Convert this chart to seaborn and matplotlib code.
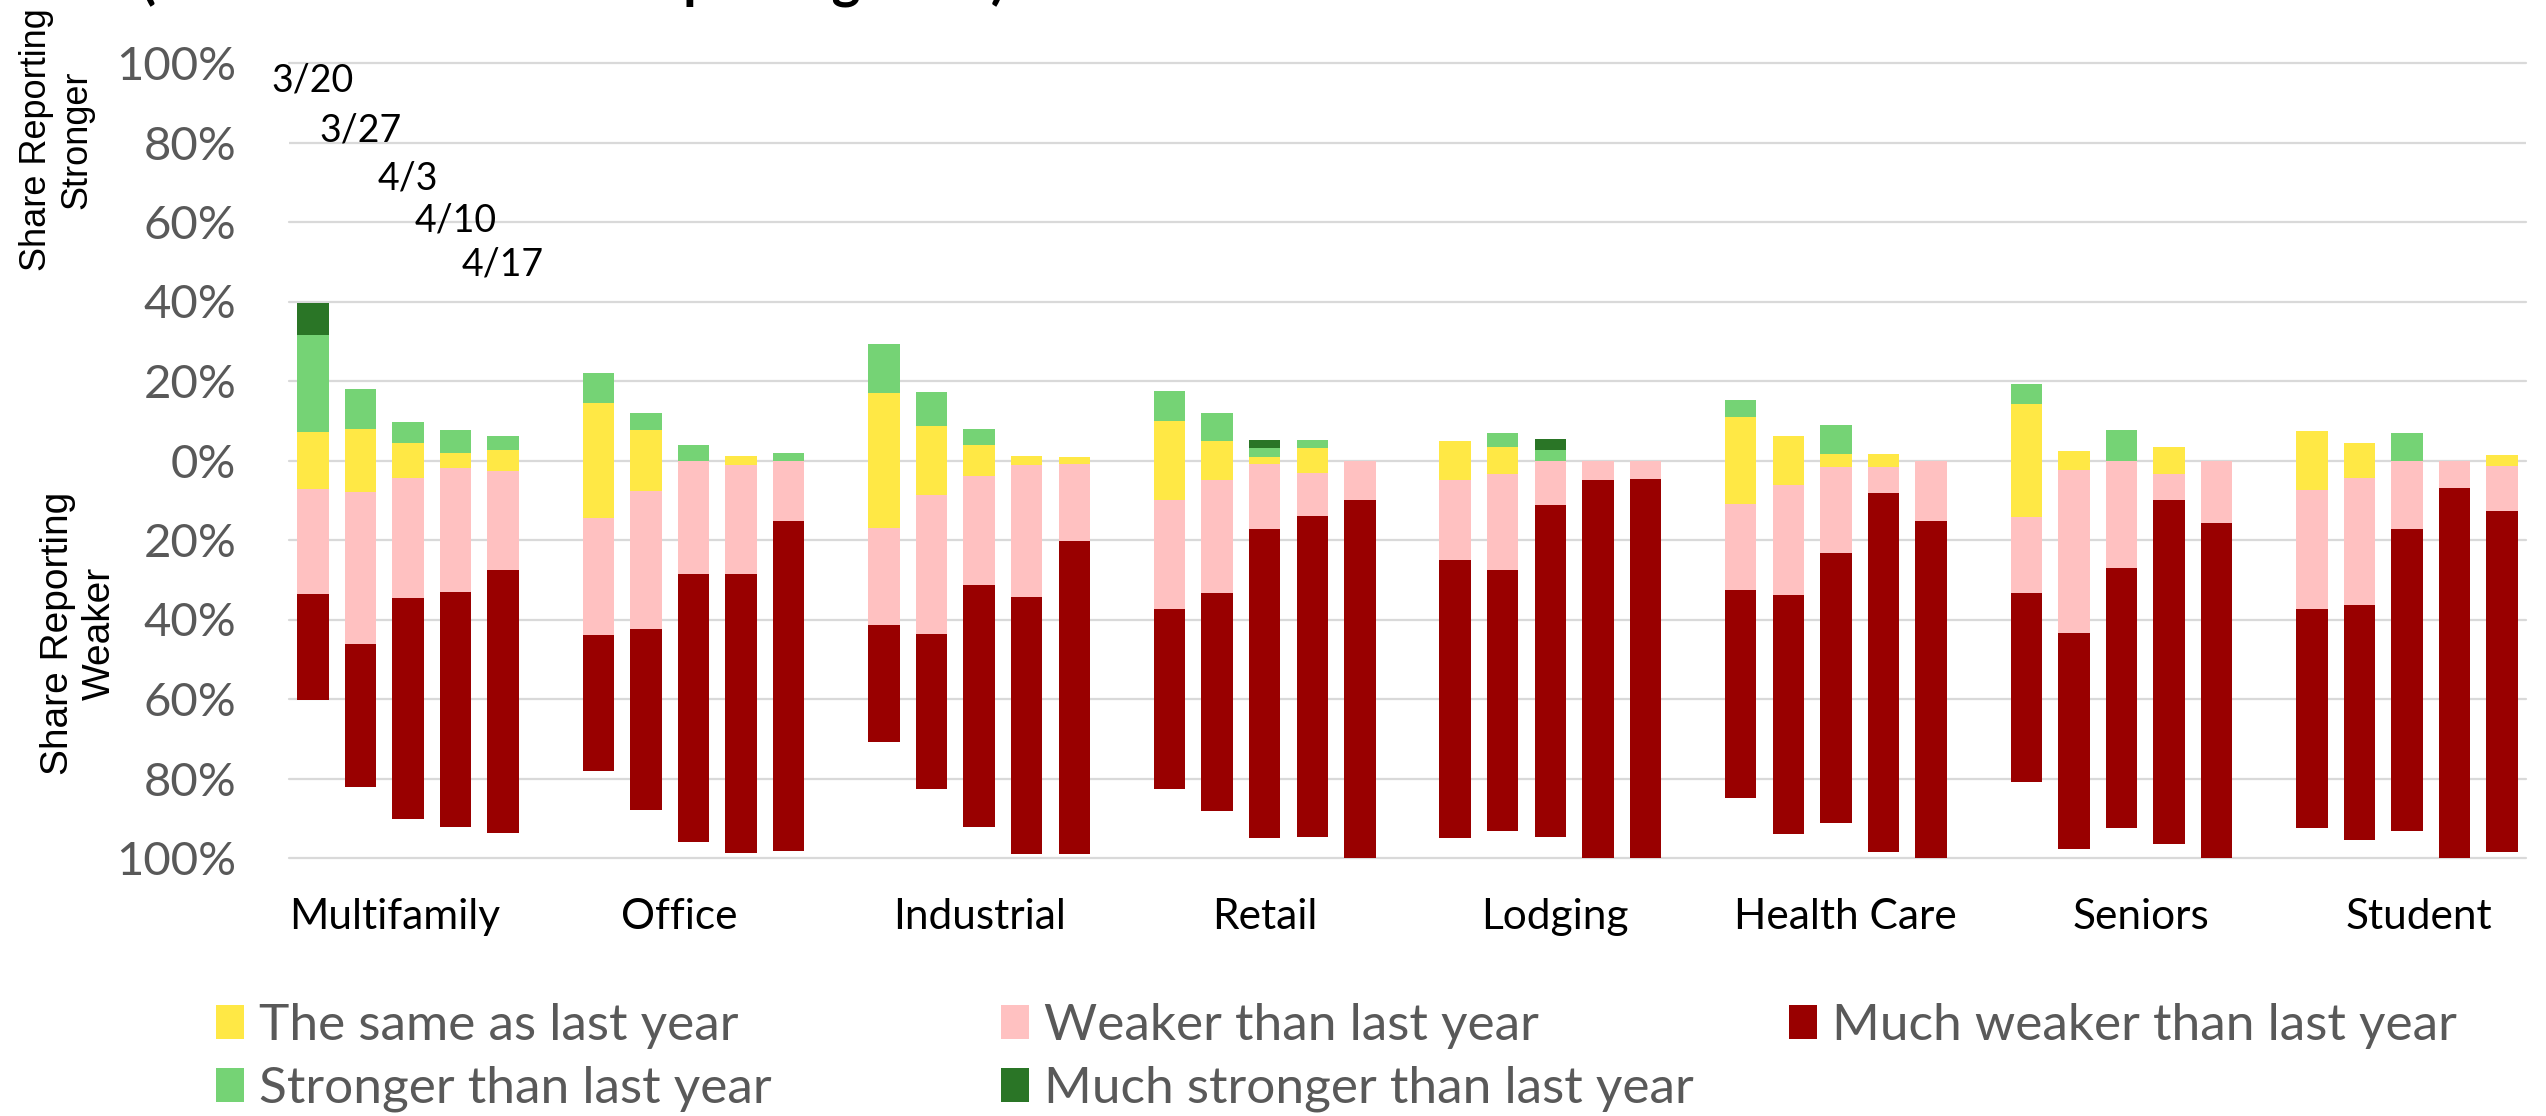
import matplotlib
matplotlib.use("Agg")
import matplotlib.pyplot as plt
from matplotlib.patches import Patch
import pandas as pd
import seaborn as sns

# survey data: share of respondents (%), one row per property type, one value per survey date
categories = ["Multifamily", "Office", "Industrial", "Retail", "Lodging",
              "Health Care", "Seniors", "Student"]
dates = ["3/20", "3/27", "4/3", "4/10", "4/17"]

same = [[14.2, 15.9, 8.8, 3.8, 5.3],
        [29.0, 15.1, 0.0, 2.1, 0.0],
        [34.2, 17.4, 7.9, 2.1, 1.9],
        [20.1, 9.6, 2.0, 6.5, 0.0],
        [10.0, 7.0, 0.0, 0.0, 0.0],
        [21.7, 12.1, 3.4, 3.2, 0.0],
        [28.5, 4.6, 0.0, 6.8, 0.0],
        [14.9, 8.9, 0.0, 0.0, 2.8]]
stronger = [[24.5, 10.0, 5.3, 5.8, 3.6],
            [7.4, 4.4, 3.9, 0.0, 1.8],
            [12.2, 8.5, 3.9, 0.0, 0.0],
            [7.4, 7.1, 2.1, 2.0, 0.0],
            [0.0, 3.4, 2.7, 0.0, 0.0],
            [4.3, 0.0, 7.2, 0.0, 0.0],
            [4.9, 0.0, 7.6, 0.0, 0.0],
            [0.0, 0.0, 6.8, 0.0, 0.0]]
much_stronger = [[8.1, 0, 0, 0, 0],
                 [0, 0, 0, 0, 0],
                 [0, 0, 0, 0, 0],
                 [0, 0, 2.1, 0, 0],
                 [0, 0, 2.8, 0, 0],
                 [0, 0, 0, 0, 0],
                 [0, 0, 0, 0, 0],
                 [0, 0, 0, 0, 0]]
weaker = [[26.6, 38.2, 30.3, 31.3, 25.0],
          [29.5, 34.9, 28.5, 27.6, 15.2],
          [24.4, 35.0, 27.4, 33.3, 19.3],
          [27.4, 28.6, 16.3, 10.6, 9.9],
          [20.0, 24.0, 11.3, 4.9, 4.7],
          [21.7, 27.9, 21.5, 6.5, 15.3],
          [19.1, 41.0, 27.0, 6.6, 15.7],
          [30.0, 31.9, 17.3, 7.0, 11.4]]
much_weaker = [[26.5, 35.9, 55.5, 58.9, 66.0],
               [34.1, 45.6, 67.4, 70.2, 83.0],
               [29.3, 39.0, 60.8, 64.6, 78.8],
               [45.1, 54.7, 77.6, 80.9, 90.1],
               [70.0, 65.6, 83.3, 95.1, 95.3],
               [52.3, 60.0, 67.9, 90.3, 84.7],
               [47.5, 54.4, 65.4, 86.5, 84.3],
               [55.1, 59.1, 76.0, 93.0, 85.7]]

# layout only: where the date labels sit over the first group, and where
# the category labels sit (they are not exactly centred in the source)
date_label_y = [95.7, 82.9, 70.9, 60.3, 49.2]
cat_label_x = [1.73, 7.7, 14.0, 20.0, 26.1, 32.2, 38.4, 44.25]

C_SAME = "#FFE845"
C_WEAK = "#FFC1C1"
C_MWEAK = "#990000"
C_STR = "#75D375"
C_MSTR = "#2A7526"
GRAY = "#595959"

rows = []
for g, cat in enumerate(categories):
    for j, d in enumerate(dates):
        half = same[g][j] / 2
        rows.append({
            "pos": g * 6 + j,
            "cat": cat,
            "date": d,
            "up_same": half,
            "up_str": half + stronger[g][j],
            "up_mstr": half + stronger[g][j] + much_stronger[g][j],
            "dn_same": -half,
            "dn_weak": -(half + weaker[g][j]),
            "dn_mweak": -(half + weaker[g][j] + much_weaker[g][j]),
        })
df = pd.DataFrame(rows)

sns.set_theme(style="white")
plt.rcParams["font.family"] = ["Lato", "DejaVu Sans"]

fig = plt.figure(figsize=(25.46, 11.16), dpi=100)
ax = fig.add_axes([289 / 2546, 1 - 858 / 1116, (2526 - 289) / 2546, (858 - 63) / 1116])

# draw the cumulative stacks back to front
layers = [("up_mstr", C_MSTR), ("up_str", C_STR), ("up_same", C_SAME),
          ("dn_mweak", C_MWEAK), ("dn_weak", C_WEAK), ("dn_same", C_SAME)]
for col, color in layers:
    sns.barplot(data=df, x="pos", y=col, native_scale=True, orient="x",
                width=0.66, color=color, saturation=1, errorbar=None, ax=ax,
                linewidth=0)

ax.set_xlim(-0.5, 46.5)
ax.set_ylim(-100, 100)
for s in ax.spines.values():
    s.set_visible(False)
ax.set_axisbelow(True)
ax.yaxis.grid(True, color="#D9D9D9", linewidth=1.6)
ax.xaxis.grid(False)
for gl in ax.get_ygridlines():
    gl.set_clip_on(False)

yt = list(range(-100, 101, 20))
ax.set_yticks(yt)
ax.set_yticklabels([f"{abs(v)}%" for v in yt], fontsize=34, color=GRAY)
ax.set_xticks(cat_label_x)
ax.set_xticklabels(categories, fontsize=30.5, color="black")
ax.tick_params(axis="y", length=0, pad=38)
ax.tick_params(axis="x", length=0, pad=29)
ax.set_xlabel("")
ax.set_ylabel("")

for j, d in enumerate(dates):
    ax.text(j, date_label_y[j], d, ha="center", va="center", fontsize=27,
            color="black")

fig.text(57 / 2546, 1 - 140 / 1116, "Share Reporting\nStronger", rotation=90,
         ha="center", va="center", multialignment="center", fontsize=26,
         family="Liberation Sans", color="black")
fig.text(79 / 2546, 1 - 633 / 1116, "Share Reporting\nWeaker", rotation=90,
         ha="center", va="center", multialignment="center", fontsize=28,
         family="Liberation Sans", color="black")

# title, cut off by the top edge as in the source image
fig.text(141 / 2546, 1 + 2 / 1116, "(Share of Members Reporting Each)",
         ha="left", va="baseline", fontsize=39.5, weight="bold", color="black")

# legend: three fixed columns
cols = [
    ([C_SAME, C_STR], ["The same as last year", "Stronger than last year"], 216),
    ([C_WEAK, C_MSTR], ["Weaker than last year", "Much stronger than last year"], 1001),
    ([C_MWEAK], ["Much weaker than last year"], 1789),
]
for colors, labels, x0 in cols:
    handles = [Patch(facecolor=c, edgecolor="none") for c in colors]
    leg = fig.legend(handles, labels, loc="upper left",
                     bbox_to_anchor=(x0 / 2546, 1 - 1003 / 1116),
                     frameon=False, fontsize=37, borderpad=0, borderaxespad=0,
                     handlelength=0.545, handleheight=0.62, handletextpad=0.29,
                     labelspacing=0.33)
    for t in leg.get_texts():
        t.set_color(GRAY)

fig.savefig("out.png", dpi=100)
